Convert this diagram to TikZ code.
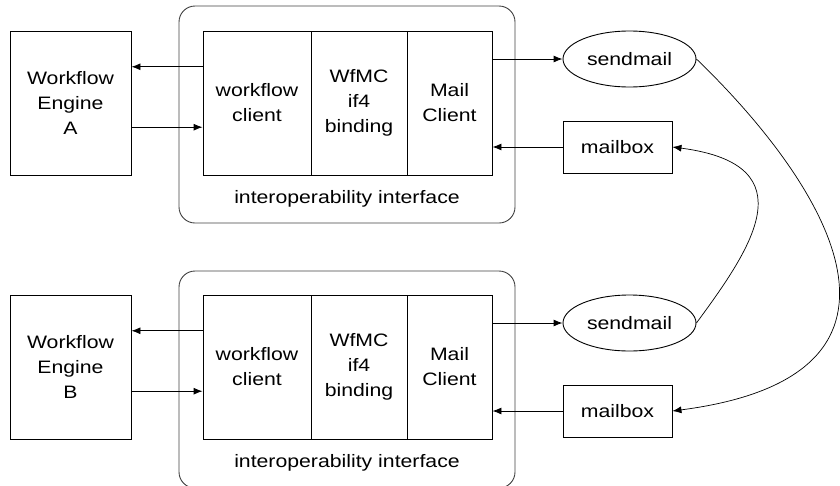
\documentclass[tikz,border=0pt]{standalone}
\usepackage{fontspec}
\setmainfont[FakeStretch=1.18]{Liberation Sans}
\usetikzlibrary{arrows.meta,shapes.geometric,calc}
\begin{document}
\begin{tikzpicture}[x=1pt,y=-1pt,
  every node/.style={font=\fontsize{18}{25}\selectfont, align=center, inner sep=0pt},
  box/.style={draw, line width=0.9pt, minimum height=144, anchor=center},
  container/.style={draw=black!75, line width=0.9pt, rounded corners=16, minimum width=336, minimum height=217},
  oval/.style={draw, ellipse, line width=0.9pt, minimum width=133, minimum height=56},
  mbox/.style={draw, line width=0.9pt, minimum width=109, minimum height=52},
  arr/.style={line width=0.9pt, -{Latex[length=9pt,width=7pt]}},
  link/.style={line width=0.7pt, -{Latex[length=9pt,width=7pt]}}]
\useasboundingbox (0,0) rectangle (840,485);
\clip (0,0) rectangle (840,485);
% ---------- top ----------
\node[container] (ifA) at (347,114.5) {};
\node (ilA) at (347,199) {interoperability interface};
\node[box, minimum width=121] (engA) at (70.5,103) {Workflow\\Engine\\A};
\node[box, minimum width=108] (wcA) at (257,103) {workflow\\client};
\node[box, minimum width=96] (wfA) at (359,103) {WfMC\\if4\\binding};
\node[box, minimum width=85] (mcA) at (449.5,103) {Mail\\Client};
\node[oval] (smA) at (629.5,59) {sendmail};
\node[mbox] (mbA) at (617.5,147) {mailbox};
% ---------- bottom ----------
\node[container] (ifB) at (347,379.5) {};
\node (ilB) at (347,463) {interoperability interface};
\node[box, minimum width=121] (engB) at (70.5,367) {Workflow\\Engine\\B};
\node[box, minimum width=108] (wcB) at (257,367) {workflow\\client};
\node[box, minimum width=96] (wfB) at (359,367) {WfMC\\if4\\binding};
\node[box, minimum width=85] (mcB) at (449.5,367) {Mail\\Client};
\node[oval] (smB) at (629.5,323) {sendmail};
\node[mbox] (mbB) at (617.5,411) {mailbox};
% ---------- connectors top ----------
\draw[arr] ($(wcA.north west)!0.25!(wcA.south west)$) -- ($(engA.north east)!0.25!(engA.south east)$);
\draw[arr] ($(engA.north east)!0.667!(engA.south east)$) -- ($(wcA.north west)!0.667!(wcA.south west)$);
\draw[arr] (mcA.east |- smA.west) -- (smA.west);
\draw[arr] (mbA.west) -- (mcA.east |- mbA.west);
% ---------- connectors bottom ----------
\draw[arr] ($(wcB.north west)!0.25!(wcB.south west)$) -- ($(engB.north east)!0.25!(engB.south east)$);
\draw[arr] ($(engB.north east)!0.667!(engB.south east)$) -- ($(wcB.north west)!0.667!(wcB.south west)$);
\draw[arr] (mcB.east |- smB.west) -- (smB.west);
\draw[arr] (mbB.west) -- (mcB.east |- mbB.west);
% ---------- cross links ----------
\draw[link] (smA.east) .. controls (822,180) and (950,375) .. (mbB.east);
\draw[link] (smB.east) .. controls (750,250) and (810,165) .. (mbA.east);
\end{tikzpicture}
\end{document}
